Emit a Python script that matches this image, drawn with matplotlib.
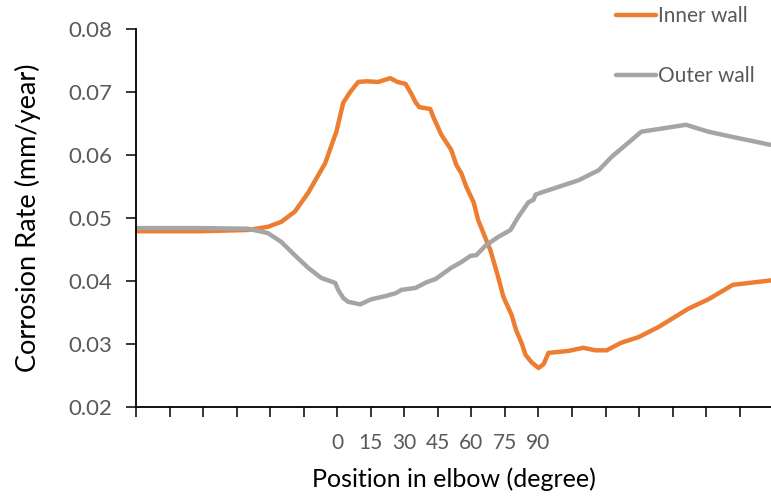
import matplotlib
matplotlib.use("Agg")
import matplotlib.pyplot as plt
import numpy as np

# ---- data ----
inner_x = [-90, -62, -40, -31, -25, -19, -13, -5.4, -0.4, 2.7, 5.8, 9.4, 13, 18.4, 23.7,
           26.9, 30.5, 33, 35, 36.7, 41.6, 43, 46.6, 51, 53.3, 55.5, 57.8, 61, 63, 66.3,
           68.5, 72, 74.3, 78, 80, 82.4, 84.2, 86.9, 90, 92.3, 94.5, 97.6, 103.4, 110,
           115.5, 120.5, 127, 134.8, 143.7, 157, 166, 177, 194]
inner_y = [0.0479, 0.0479, 0.0481, 0.0486, 0.0494, 0.0510, 0.0540, 0.0587, 0.0637, 0.0683,
           0.0700, 0.0716, 0.0717, 0.0716, 0.0722, 0.0716, 0.0713, 0.0698, 0.0684, 0.0676,
           0.0673, 0.0660, 0.0632, 0.0608, 0.0584, 0.0571, 0.0549, 0.0525, 0.0497, 0.0468,
           0.0449, 0.0406, 0.0375, 0.0346, 0.0322, 0.0302, 0.0283, 0.0271, 0.0262, 0.0268,
           0.0286, 0.0287, 0.0289, 0.0294, 0.0290, 0.0290, 0.0302, 0.0311, 0.0327, 0.0356,
           0.0371, 0.0394, 0.0401]

outer_x = [-90, -62, -40, -31, -25, -19, -13, -7.2, -0.9, 0.4, 2.7, 4.9, 10.3, 15.2, 21.5,
           26.4, 28.7, 35, 39.9, 43.9, 51, 55.5, 59.6, 62.2, 66.3, 72, 77.5, 81, 85.5, 87.8,
           88.7, 90.9, 108, 117, 122.7, 136, 147, 156, 166, 176.4, 194]
outer_y = [0.0484, 0.0484, 0.0483, 0.0476, 0.0462, 0.0441, 0.0421, 0.0405, 0.0397, 0.0386,
           0.0373, 0.0367, 0.0363, 0.0371, 0.0376, 0.0381, 0.0386, 0.0389, 0.0398, 0.0403,
           0.0421, 0.0430, 0.0440, 0.0441, 0.0456, 0.0470, 0.0481, 0.0502, 0.0525, 0.0529,
           0.0537, 0.0540, 0.0560, 0.0576, 0.0597, 0.0637, 0.0643, 0.0648, 0.0637, 0.0629,
           0.0616]

x_ticks = list(range(-90, 181, 15))
x_ticklabels = [str(t) if 0 <= t <= 90 else "" for t in x_ticks]
y_ticks = [0.02, 0.03, 0.04, 0.05, 0.06, 0.07, 0.08]

plt.rcParams["font.family"] = ["Lato", "DejaVu Sans"]

fig = plt.figure(figsize=(7.71, 4.96), dpi=100)
ax = fig.add_axes([0.1764, 0.1794, 0.8236, 0.7621])

ax.plot(inner_x, inner_y, color="#ED7D31", linewidth=3.2, label="Inner wall",
        solid_capstyle="round", solid_joinstyle="round")
ax.plot(outer_x, outer_y, color="#A5A5A5", linewidth=3.2, label="Outer wall",
        solid_capstyle="round", solid_joinstyle="round")

ax.set_xlim(-90, 194)
ax.set_ylim(0.02, 0.08)
ax.set_xticks(x_ticks)
ax.set_xticklabels(x_ticklabels)
ax.set_yticks(y_ticks)
ax.set_yticklabels([f"{v:.2f}" for v in y_ticks])

ax.spines["top"].set_visible(False)
ax.spines["right"].set_visible(False)
for s in ("left", "bottom"):
    ax.spines[s].set_linewidth(1.3)
    ax.spines[s].set_color("black")

ax.tick_params(axis="x", direction="out", length=7, width=1.1, pad=12,
               labelsize=15, labelcolor="#595959")
ax.tick_params(axis="y", direction="out", length=7, width=1.1, pad=10,
               labelsize=16, labelcolor="#595959")

ax.set_xlabel("Position in elbow (degree)", fontsize=18, labelpad=10)
ax.set_ylabel("Corrosion Rate (mm/year)", fontsize=19.5, labelpad=20)

fig.legend(loc="upper left", bbox_to_anchor=(0.775, 1.025), frameon=False,
           fontsize=15, labelcolor="#595959", labelspacing=1.9,
           handlelength=1.9, handletextpad=0.1)

fig.savefig("out.png", dpi=100)
